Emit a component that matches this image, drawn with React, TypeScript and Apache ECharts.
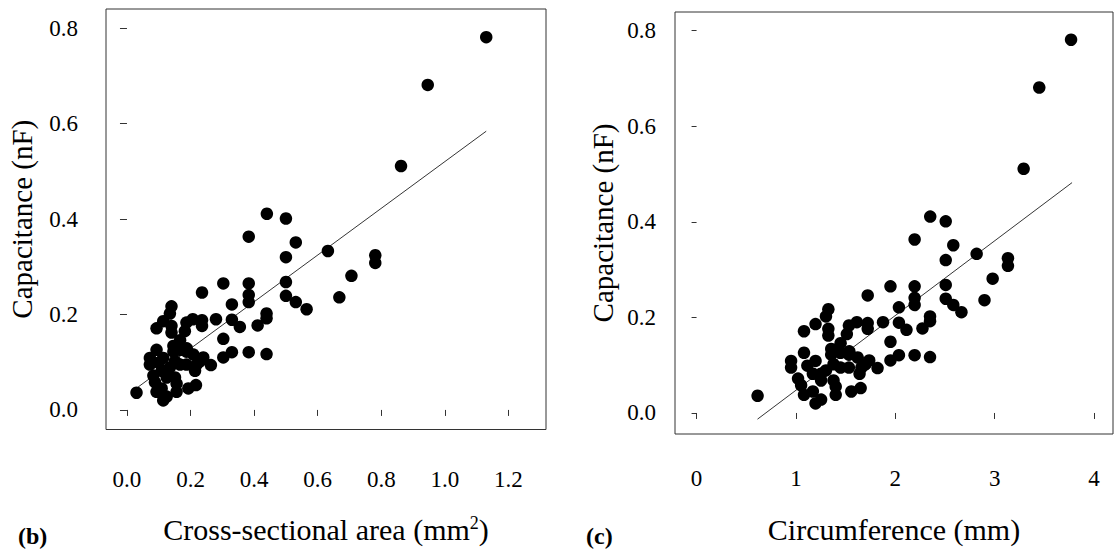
import React, { useEffect, useRef } from "react";
import * as echarts from "echarts";

// Capacitance (nF), shared by both panels
const capacitance = [
  0.411, 0.401, 0.363, 0.351, 0.333, 0.324, 0.308, 0.320, 0.281, 0.246,
  0.265, 0.265, 0.241, 0.226, 0.268, 0.239, 0.226, 0.211, 0.236, 0.221,
  0.202, 0.192, 0.189, 0.174, 0.177, 0.190, 0.149, 0.121, 0.117, 0.121,
  0.110, 0.094, 0.176, 0.188, 0.190, 0.165, 0.183, 0.217, 0.202, 0.186,
  0.171, 0.176, 0.162, 0.126, 0.109, 0.095, 0.072, 0.058, 0.038, 0.020,
  0.028, 0.038, 0.045, 0.052, 0.036, 0.068, 0.068, 0.089, 0.102, 0.122,
  0.134, 0.126, 0.122, 0.116, 0.095, 0.110, 0.082, 0.095, 0.095, 0.109,
  0.099, 0.082, 0.055, 0.082, 0.681, 0.511, 0.781, 0.146, 0.129, 0.102,
  0.045,
];

// Cross-sectional area (mm^2), panel (b)
const crossArea = [
  0.440, 0.500, 0.383, 0.531, 0.632, 0.781, 0.781, 0.500, 0.706, 0.236,
  0.303, 0.383, 0.383, 0.383, 0.500, 0.500, 0.531, 0.565, 0.668, 0.330,
  0.439, 0.439, 0.330, 0.355, 0.411, 0.280, 0.303, 0.383, 0.439, 0.330,
  0.303, 0.264, 0.236, 0.236, 0.207, 0.182, 0.187, 0.140, 0.135, 0.114,
  0.093, 0.140, 0.140, 0.093, 0.072, 0.072, 0.083, 0.088, 0.093, 0.114,
  0.125, 0.156, 0.193, 0.217, 0.030, 0.125, 0.151, 0.135, 0.151, 0.146,
  0.146, 0.167, 0.187, 0.209, 0.219, 0.240, 0.214, 0.187, 0.167, 0.114,
  0.099, 0.125, 0.156, 0.109, 0.946, 0.862, 1.130, 0.167, 0.188, 0.230,
  0.109,
];

// Circumference (mm), panel (c)
const circumference = [
  2.351, 2.507, 2.194, 2.583, 2.818, 3.133, 3.133, 2.507, 2.979, 1.722,
  1.951, 2.194, 2.194, 2.194, 2.507, 2.507, 2.583, 2.665, 2.897, 2.036,
  2.349, 2.349, 2.036, 2.112, 2.273, 1.876, 1.951, 2.194, 2.349, 2.036,
  1.951, 1.821, 1.722, 1.722, 1.613, 1.512, 1.533, 1.326, 1.302, 1.197,
  1.081, 1.326, 1.326, 1.081, 0.951, 0.951, 1.021, 1.052, 1.081, 1.197,
  1.253, 1.400, 1.557, 1.651, 0.614, 1.253, 1.378, 1.302, 1.378, 1.355,
  1.355, 1.449, 1.533, 1.621, 1.659, 1.737, 1.640, 1.533, 1.449, 1.197,
  1.115, 1.253, 1.400, 1.170, 3.448, 3.291, 3.768, 1.449, 1.537, 1.700,
  1.170,
];

// Regression lines: [x, y] endpoints
const fitAreaX = [0.035, 1.13];
const fitAreaY = [0.048, 0.584];
const fitCircX = [0.613, 3.778];
const fitCircY = [-0.013, 0.482];

// Tick values
const areaTicks = [0, 0.2, 0.4, 0.6, 0.8, 1.0, 1.2];
const circTicks = [0, 1, 2, 3, 4];
const capTicks = [0, 0.2, 0.4, 0.6, 0.8];

const FONT = "Liberation Serif";

export default function App() {
  const ref = useRef<HTMLDivElement>(null);

  useEffect(() => {
    if (!ref.current) return;
    const chart = echarts.init(ref.current, undefined, { renderer: "svg" });

    const tickStyle = { color: "#333", width: 1 };
    const labelBase = { fontFamily: FONT, fontSize: 23, color: "#000" };
    const nameBase = { fontFamily: FONT, fontSize: 29, color: "#000" };

    const xAxisCommon = (
      gridIndex: number,
      min: number,
      max: number,
      ticks: number[],
      fmt: (v: number) => string,
      name: string,
      nameGap: number,
      labelMargin: number,
      extraName: any
    ) => ({
      type: "value",
      gridIndex,
      min,
      max,
      name,
      nameLocation: "middle",
      nameGap,
      nameTextStyle: { ...nameBase, fontSize: 30, ...extraName },
      axisLine: { show: false },
      splitLine: { show: false },
      axisTick: { show: true, inside: false, length: 6, customValues: ticks, lineStyle: tickStyle },
      axisLabel: { ...labelBase, margin: labelMargin, customValues: ticks, formatter: fmt },
    });

    const yAxisCommon = (gridIndex: number, min: number, max: number, margin: number, nameGap: number, tickLen: number) => ({
      type: "value",
      gridIndex,
      min,
      max,
      name: "Capacitance (nF)",
      nameLocation: "middle",
      nameGap,
      nameTextStyle: nameBase,
      axisLine: { show: false },
      splitLine: { show: false },
      axisTick: { show: true, inside: false, length: tickLen, customValues: capTicks, lineStyle: tickStyle },
      axisLabel: { ...labelBase, margin, customValues: capTicks, formatter: (v: number) => v.toFixed(1) },
    });

    const pts = (xs: number[], ys: number[]) => xs.map((x, i) => [x, ys[i]]);

    chart.setOption({
      animation: false,
      backgroundColor: "#fff",
      grid: [
        { left: 106, top: 9, width: 440, height: 438, show: true, borderColor: "#333", borderWidth: 1, backgroundColor: "transparent" },
        { left: 675, top: 12, width: 438, height: 440, show: true, borderColor: "#333", borderWidth: 1, backgroundColor: "transparent" },
      ],
      xAxis: [
        xAxisCommon(0, -0.066, 1.318, areaTicks, (v: number) => v.toFixed(1), "Cross-sectional area (mm{sup|2})", 84, 38, {
          rich: {
            sup: { fontFamily: FONT, fontSize: 18, color: "#000", verticalAlign: "top", padding: [0, 0, 13, 0] },
          },
        }),
        xAxisCommon(1, -0.217, 4.19, circTicks, (v: number) => String(Math.round(v)), "Circumference (mm)", 80, 33, {}),
      ],
      yAxis: [
        yAxisCommon(0, -0.041, 0.84, 28, 70, 7),
        yAxisCommon(1, -0.044, 0.839, 19, 58, 5),
      ],
      series: [
        {
          type: "line",
          xAxisIndex: 0,
          yAxisIndex: 0,
          data: pts(fitAreaX, fitAreaY),
          symbol: "none",
          lineStyle: { color: "#000", width: 0.8 },
          z: 1,
        },
        {
          type: "scatter",
          xAxisIndex: 0,
          yAxisIndex: 0,
          data: pts(crossArea, capacitance),
          symbol: "circle",
          symbolSize: 12.5,
          itemStyle: { color: "#000", opacity: 1 },
          z: 2,
        },
        {
          type: "line",
          xAxisIndex: 1,
          yAxisIndex: 1,
          data: pts(fitCircX, fitCircY),
          symbol: "none",
          lineStyle: { color: "#000", width: 0.8 },
          z: 1,
        },
        {
          type: "scatter",
          xAxisIndex: 1,
          yAxisIndex: 1,
          data: pts(circumference, capacitance),
          symbol: "circle",
          symbolSize: 12.5,
          itemStyle: { color: "#000", opacity: 1 },
          z: 2,
        },
      ],
      graphic: [
        { type: "text", left: 18, top: 524, style: { text: "(b)", fontFamily: FONT, fontWeight: "bold", fontSize: 24, fill: "#000" } },
        { type: "text", left: 586, top: 524, style: { text: "(c)", fontFamily: FONT, fontWeight: "bold", fontSize: 24, fill: "#000" } },
      ],
    });

    return () => chart.dispose();
  }, []);

  return (
    <div
      ref={ref}
      style={{ position: "fixed", left: 0, top: 0, width: 1117, height: 549, background: "#fff" }}
    />
  );
}
